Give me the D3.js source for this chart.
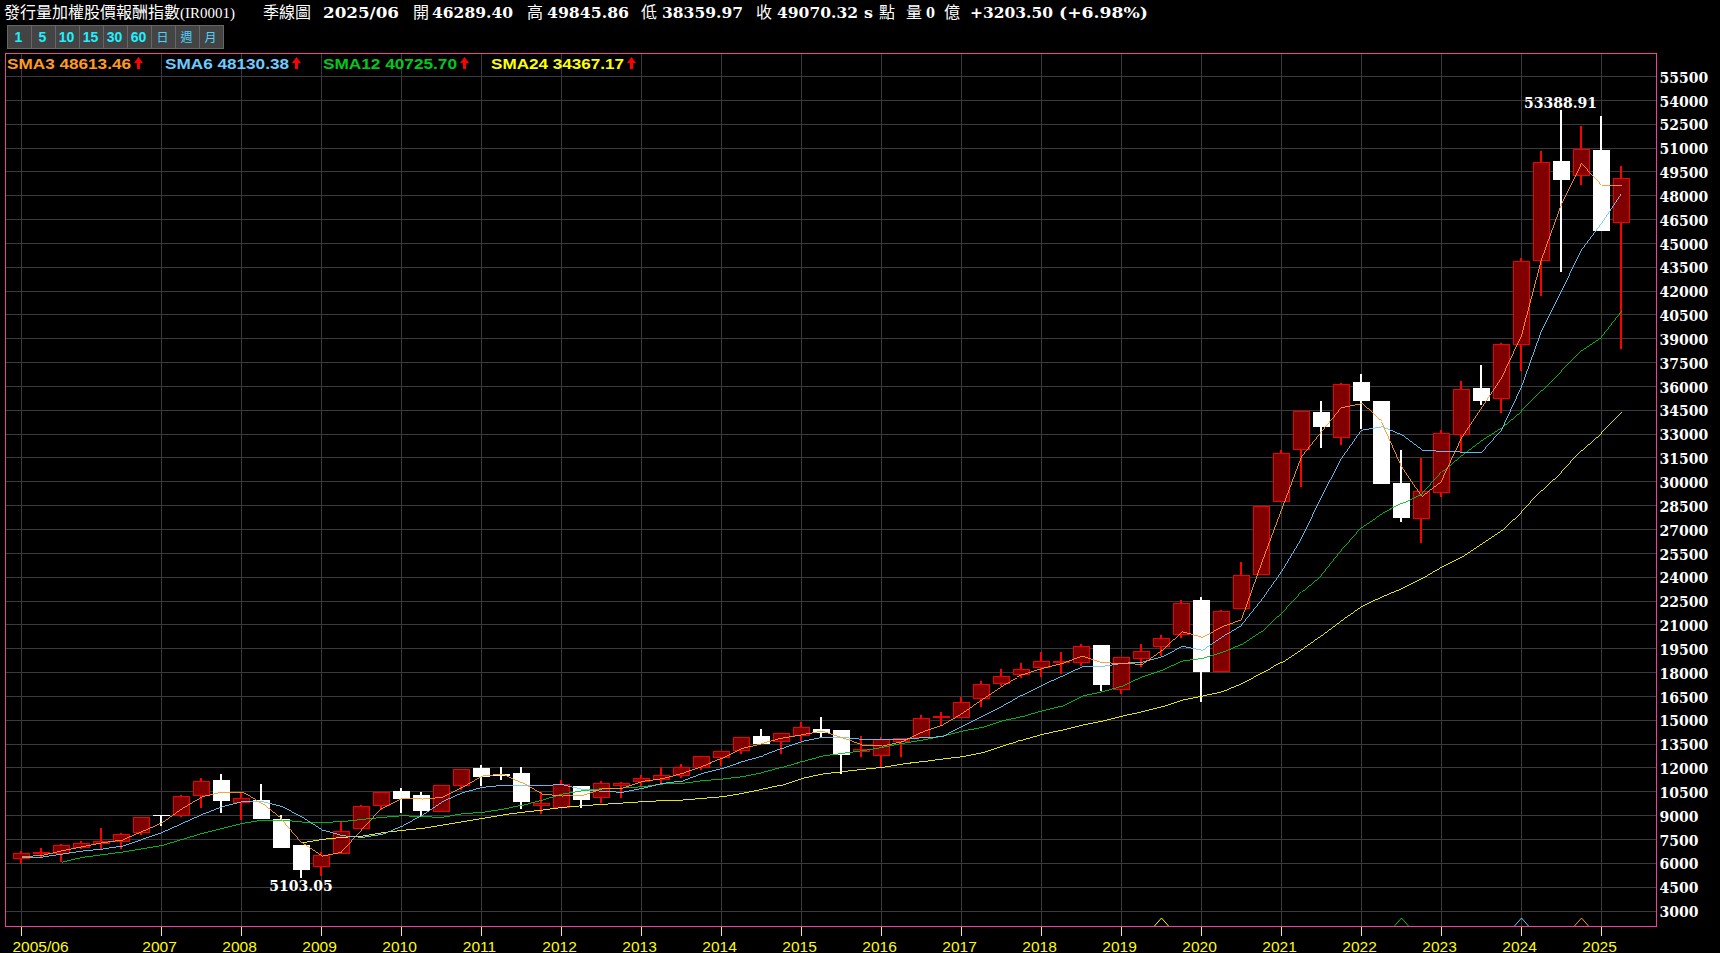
<!DOCTYPE html>
<html>
<head>
<meta charset="utf-8">
<style>
  html, body { margin: 0; padding: 0; background: #000; overflow: hidden; }
  svg { display: block; }
  .num { font-family: "DejaVu Serif"; font-weight: bold; font-size: 14px; fill: #fff; }
  .cjk { font-family: "Noto Sans CJK TC"; font-size: 16px; fill: #fff; }
</style>
</head>
<body>
<div class="canvas"></div>
<script src="https://cdn.jsdelivr.net/npm/d3@7"></script>
<script>
// quarterly candles, index 0 = 2005/06, index 80 = 2025/06
const qOpen = [6292,6606,6648,7026,7235,7403,7927,9038,8996,10254,11240,9814,9982,8787,7151,5788,6606,8179,9625,10548,10296,9248,10883,11995,11617,11680,9625,9542,10862,10129,10925,11135,11261,11512,12058,12687,13085,14008,13651,14070,14427,14385,13064,12770,13651,13945,15161,15203,16356,17299,17865,18306,18620,18620,19731,16964,18914,19627,20402,22562,18054,22017,24155,28747,32039,34387,32773,36274,35079,29921,27678,29313,32961,35897,35226,38622,43906,50154,49273,50867,46289.40];
const qHigh = [6774,6963,7214,7403,8221,7885,8934,9038,10275,11366,11617,10443,10988,9038,7151,6711,8598,9646,10464,10737,10464,10904,11911,12183,12058,12058,10485,11240,10862,11177,11114,11554,12058,12246,12729,13064,13924,14448,14175,14888,15203,14385,14007,13945,13861,15328,15517,16461,17467,18222,18599,19291,19291,19794,19731,18956,19794,20360,22562,22750,21933,24952,28453,31997,34429,35079,36211,36777,35079,31997,31473,33255,36316,37343,38706,44074,50825,53388.91,52377,53006,49845.86];
const qLow = [5977,6418,6061,6921,6900,6900,7780,8346,8934,9479,9185,8724,8850,6963,5103.05,5201,6606,8179,9353,9164,8975,9248,10611,10862,11240,9416,9101,9542,9479,9772,10108,10862,10988,11366,11869,12121,12875,13567,12875,13672,13945,11617,12687,12037,12687,13945,14678,15203,15832,17153,17656,17719,17907,18411,16838,16649,18348,19040,20192,16146,18054,22017,24155,28747,29670,32123,32311,33318,29921,27468,26147,29041,31871,34827,34324,36966,41683,43193,48665,45835,38359.97];
const qClose = [6627,6690,7130,7256,7382,7822,8892,8996,10213,11156,9982,10087,8850,7026,5642,6501,8011,9584,10464,10108,9353,10904,11911,11491,11554,9919,9772,10988,10045,11030,11051,11366,11533,12037,12729,13064,13924,13567,14175,14553,14259,12875,13148,13777,13861,15119,15245,16125,17257,17761,18201,18704,18704,19648,17278,18956,19333,20151,22352,18096,21849,24113,28453,31787,34429,33507,36127,35142,29921,27783,29397,33045,35813,35142,38643,43864,50091,49001,50909,45835,49070.32];

const sma3 = [6418,6501,6795,7047,7298,7466,8011,8556,9458,10192,10485,10485,9772,8766,7298,6459,6711,8095,9458,10087,10045,10150,10779,11491,11617,11072,10359,10233,10275,10695,10716,11156,11324,11659,12100,12603,13232,13525,13882,14091,14322,13903,13442,13378,13651,14259,14699,15433,16314,17153,17865,18264,18578,19040,18620,18578,18515,19417,20570,20213,20884,21346,24868,28223,31578,33150,34681,34932,33779,30949,29103,30068,32752,34660,36526,39209,43990,47470,50028,48665,48613.46];
const sma6 = [6397,6397,6585,6774,6900,7088,7508,7948,8514,9080,9563,9877,9877,9563,8892,8095,7738,7634,7822,8346,9038,9877,10443,10779,10904,10904,10904,10946,10653,10527,10464,10716,11030,11177,11659,11974,12393,12750,13232,13672,13924,13924,13798,13798,13798,13903,13966,14636,15265,15894,16586,17215,17782,18369,18390,18578,18662,18998,19648,19396,20255,20989,22562,24344,26441,29062,31473,33255,33465,32940,31997,31913,31871,31850,33255,35981,39503,42019,44577,46254,48130.38];
const sma12 = [null,null,6082,6376,6543,6711,6921,7130,7508,7885,8200,8514,8703,8724,8598,8577,8619,8766,8892,8996,8934,8892,9122,9206,9395,9646,9982,10359,10569,10695,10737,10821,10988,11030,11198,11303,11450,11701,12037,12393,12750,12917,13085,13295,13546,13756,14007,14322,14553,14972,15224,15601,15894,16523,16796,17153,17740,18159,18725,18893,19270,19794,20612,21723,23086,24134,25707,27133,28013,28642,29229,30634,31682,32626,33423,34471,35771,36987,38287,39125,40725.70];
const sma24 = [null,null,null,null,null,null,null,null,null,null,null,null,null,null,7298,7508,7634,7717,7927,8074,8200,8409,8619,8829,9038,9206,9353,9521,9625,9709,9793,9877,9940,9982,10087,10192,10401,10653,10925,11345,11617,11764,11911,12037,12246,12393,12561,12708,12959,13378,13756,14112,14385,14699,14951,15265,15538,15853,16272,16523,16796,17320,17991,18641,19480,20360,21304,22184,22771,23296,23925,24658,25287,26126,26965,28118,29481,30634,31997,33087,34367.17];

const smaNames = ["SMA3", "SMA6", "SMA12", "SMA24"];
const smaLast = ["48613.46", "48130.38", "40725.70", "34367.17"];
const smaColors = ["#ff9a1f", "#6ccbff", "#00c81e", "#ffff00"];
const smaLegendX = [7, 165, 323, 491];
const smaLegendW = [124, 124, 134, 133];

const yTicks = d3.range(3000, 55501, 1500);
const xTickIdx = [0, 7, 11, 15, 19, 23, 27, 31, 35, 39, 43, 47, 51, 55, 59, 63, 67, 71, 75, 79];
const xTickLabels = ["2005/06", "2007", "2008", "2009", "2010", "2011", "2012", "2013", "2014", "2015", "2016", "2017", "2018", "2019", "2020", "2021", "2022", "2023", "2024", "2025"];

// little triangles on the bottom edge: index and which sma colour
const markerIdx = [57, 69, 75, 78];
const markerColor = ["#ffff00", "#00c81e", "#6ccbff", "#ff9a1f"];

const buttons = ["1", "5", "10", "15", "30", "60", "日", "週", "月"];

const plot = { left: 5.5, right: 1656.5, top: 53.5, bottom: 926.5 };

const svg = d3
  .select(".canvas")
  .append("svg")
  .attr("width", 1720)
  .attr("height", 953);

svg.append("rect").attr("width", 1720).attr("height", 953).attr("fill", "#000");

const x = d3.scaleLinear().domain([0, 80]).range([21.5, 1621.5]);
const y = d3.scaleLinear().domain([3000, 55500]).range([911, 76.5]);

// header line
const head = svg.append("g");
const headerCjk = [["發行量加權股價報酬指數", 4], ["季線圖", 263], ["開", 413], ["高", 527], ["低", 641], ["收", 756], ["點", 879], ["量", 906], ["億", 944]];
const headerNum = [["2025/06", 323, 76], ["46289.40", 432, 81], ["49845.86", 547, 82], ["38359.97", 662, 81], ["49070.32", 777, 81], ["s", 864, 9], ["0", 926, 9], ["+3203.50", 970, 83], ["(+6.98%)", 1059, 89]];

headerCjk.forEach((d) => {
  head.append("text").attr("class", "cjk").attr("x", d[1]).attr("y", 18).text(d[0]);
});
headerNum.forEach((d) => {
  head
    .append("text")
    .attr("class", "num")
    .style("font-size", "15.5px")
    .attr("x", d[1])
    .attr("y", 18)
    .attr("textLength", d[2])
    .attr("lengthAdjust", "spacingAndGlyphs")
    .text(d[0]);
});
head
  .append("text")
  .attr("x", 180)
  .attr("y", 18)
  .attr("textLength", 55)
  .attr("lengthAdjust", "spacingAndGlyphs")
  .style("font-family", "Liberation Serif")
  .style("font-size", "15px")
  .attr("fill", "#fff")
  .text("(IR0001)");

// period buttons
const btnW = 24;
const btn = svg
  .append("g")
  .selectAll("g")
  .data(buttons)
  .enter()
  .append("g")
  .attr("transform", (d, i) => `translate(${7 + i * btnW},25)`);
btn
  .append("rect")
  .attr("x", 0.5)
  .attr("y", 0.5)
  .attr("width", btnW)
  .attr("height", 23)
  .attr("fill", "#444")
  .attr("stroke", "#666")
  .attr("shape-rendering", "crispEdges");
btn
  .append("text")
  .attr("x", 11.5)
  .attr("y", 17)
  .attr("text-anchor", "middle")
  .attr("fill", (d, i) => (i < 6 ? "#1ef0ff" : "#4fd2ff"))
  .style("font-family", (d, i) => (i < 6 ? "Liberation Sans" : "Noto Sans CJK TC"))
  .style("font-weight", (d, i) => (i < 6 ? "bold" : "normal"))
  .style("font-size", (d, i) => (i < 6 ? "14px" : "12px"))
  .text((d) => d);

// grid, drawn with the axes' long ticks
const gridX = svg
  .append("g")
  .attr("transform", `translate(0,${plot.top})`)
  .call(d3.axisBottom(x).offset(0).tickValues(xTickIdx).tickSize(plot.bottom - plot.top).tickFormat(""));
const gridY = svg
  .append("g")
  .attr("transform", `translate(${plot.left},0)`)
  .call(d3.axisRight(y).offset(0).tickValues(yTicks).tickSize(plot.right - plot.left).tickFormat(""));
gridX.select(".domain").remove();
gridY.select(".domain").remove();
svg.selectAll("g g.tick line").attr("stroke", "#3a3a3a").attr("shape-rendering", "crispEdges");

// candles
const candles = svg
  .append("g")
  .attr("shape-rendering", "crispEdges")
  .selectAll("g")
  .data(qClose)
  .enter()
  .append("g");

candles
  .append("line")
  .attr("x1", (d, i) => x(i) - 0.5)
  .attr("x2", (d, i) => x(i) - 0.5)
  .attr("y1", (d, i) => y(qHigh[i]))
  .attr("y2", (d, i) => y(qLow[i]))
  .attr("stroke", (d, i) => (d >= qOpen[i] ? "#ff0000" : "#fff"))
  .attr("stroke-width", 2);

candles
  .append("rect")
  .attr("x", (d, i) => x(i) - 8)
  .attr("width", 16)
  .attr("y", (d, i) => y(Math.max(d, qOpen[i])))
  .attr("height", (d, i) => Math.abs(y(d) - y(qOpen[i])))
  .attr("fill", (d, i) => (d >= qOpen[i] ? "#800000" : "#fff"))
  .attr("stroke", (d, i) => (d >= qOpen[i] ? "#f00000" : "#fff"));

// moving averages
const line = d3
  .line()
  .defined((d) => d !== null)
  .x((d, i) => x(i))
  .y((d) => y(d));

[sma24, sma12, sma6, sma3].forEach((s, k) => {
  svg
    .append("path")
    .attr("d", line(s))
    .attr("fill", "none")
    .attr("stroke", smaColors[3 - k])
    .attr("stroke-width", 0.9)
    .attr("shape-rendering", "crispEdges");
});

// extreme labels
const iMax = d3.maxIndex(qHigh);
const iMin = d3.minIndex(qLow);
svg
  .append("text")
  .attr("class", "num")
  .attr("x", x(iMax) - 1)
  .attr("y", y(qHigh[iMax]) - 2.5)
  .attr("text-anchor", "middle")
  .text(qHigh[iMax].toFixed(2));
svg
  .append("text")
  .attr("class", "num")
  .attr("x", x(iMin) - 0.5)
  .attr("y", y(qLow[iMin]) + 13)
  .attr("text-anchor", "middle")
  .text(qLow[iMin].toFixed(2));

// bottom triangles
markerIdx.forEach((idx, k) => {
  svg
    .append("path")
    .attr("d", `M${x(idx) - 7},926 L${x(idx)},918 L${x(idx) + 7},926`)
    .attr("fill", "none")
    .attr("stroke", markerColor[k])
    .attr("stroke-width", 1);
});

// frame
svg
  .append("rect")
  .attr("x", plot.left)
  .attr("y", plot.top)
  .attr("width", plot.right - plot.left)
  .attr("height", plot.bottom - plot.top)
  .attr("fill", "none")
  .attr("stroke", "#f0409a")
  .attr("shape-rendering", "crispEdges");

// legend
smaNames.forEach((name, k) => {
  svg
    .append("text")
    .attr("x", smaLegendX[k])
    .attr("y", 69)
    .attr("textLength", smaLegendW[k])
    .attr("lengthAdjust", "spacingAndGlyphs")
    .attr("fill", smaColors[k])
    .style("font-family", "Liberation Sans")
    .style("font-weight", "bold")
    .style("font-size", "15px")
    .text(name + " " + smaLast[k]);
  const ax = smaLegendX[k] + smaLegendW[k] + 7.5;
  svg
    .append("path")
    .attr("d", `M${ax},57 L${ax + 4.5},63 L${ax + 1.5},63 L${ax + 1.5},69 L${ax - 1.5},69 L${ax - 1.5},63 L${ax - 4.5},63 Z`)
    .attr("fill", "#ff0000");
});

// right value axis
const yAxisGroup = svg
  .append("g")
  .attr("transform", `translate(${plot.right},0)`)
  .call(d3.axisRight(y).offset(0).tickValues(yTicks).tickSize(0).tickPadding(3).tickFormat((d) => d));
yAxisGroup.select(".domain").remove();
yAxisGroup.selectAll("text").attr("class", "num").attr("fill", "#fff").attr("dy", "0.44em");

// bottom time axis
const xAxisGroup = svg
  .append("g")
  .attr("transform", `translate(0,${plot.bottom})`)
  .call(
    d3
      .axisBottom(x)
      .offset(0)
      .tickValues(xTickIdx)
      .tickSize(9)
      .tickFormat((d, i) => xTickLabels[i])
  );
xAxisGroup.select(".domain").remove();
xAxisGroup.selectAll("line").attr("stroke", "#ffff00").attr("shape-rendering", "crispEdges");
xAxisGroup
  .selectAll("text")
  .attr("fill", "#ffff00")
  .attr("y", 25)
  .attr("dy", 0)
  .style("font-family", "Liberation Sans")
  .style("font-size", "15.5px")
  .attr("text-anchor", (d, i) => (i === 0 ? "start" : "middle"))
  .attr("dx", (d, i) => (i === 0 ? -9 : -2));
</script>
</body>
</html>
